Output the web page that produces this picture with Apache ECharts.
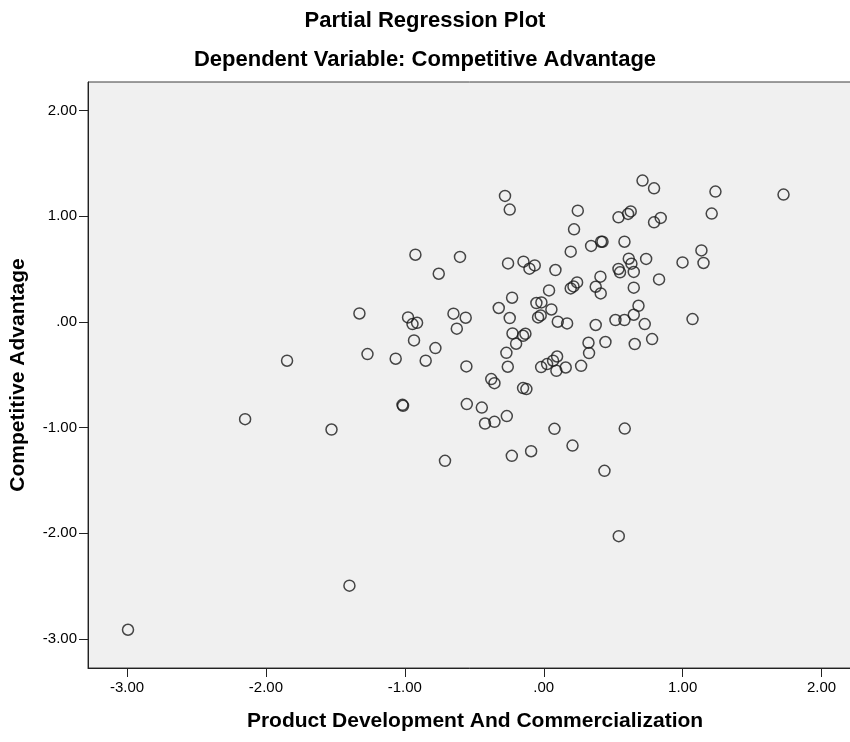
<!DOCTYPE html>
<html>
<head>
<meta charset="utf-8">
<title>Partial Regression Plot</title>
<script src="https://cdn.jsdelivr.net/npm/echarts@6/dist/echarts.min.js"></script>
<style>
  html, body { margin: 0; padding: 0; background: #fff; }
  #chart { width: 850px; height: 742px; }
</style>
</head>
<body>
<div id="chart"></div>
<script>
// x = Product Development And Commercialization (partial residual)
const pdcValues = [
  -0.924, -0.603, -0.756, -1.327, -0.977, -0.945, -0.912, -0.650, -0.562, -0.626,
  -0.934, -0.780, -1.269, -1.066, -0.850, -1.848, -0.557,
  0.711, 0.794, 1.236, 1.726, -0.279, -0.245, 0.245, 0.218, 0.538, 0.607, 0.626,
  0.794, 0.842, 1.209, 0.341, 0.413, 0.423, 0.581, 0.194, 1.135, 1.150, 0.999,
  0.737, 0.612, 0.631, 0.648, 0.538, 0.549, -0.257, -0.146, -0.103, -0.065, 0.084,
  0.408, 0.830, 0.648, 0.374, 0.410, 0.194, 0.214, 0.240, 0.038, -0.228, -0.324,
  -0.053, -0.017, 0.055, -0.041, -0.022, -0.245, 0.101, 0.168, 0.374, 0.516, 0.581,
  0.682, 0.648, 0.727, 1.071, -0.225, -0.149, -0.132, -0.199, -0.269, 0.322, 0.326,
  0.444, 0.655, 0.780, -0.259, -0.019, 0.024, 0.067, 0.096, 0.091, 0.158, 0.269,
  -0.378, -0.355, -0.149, -0.125, -0.554, -0.446, -0.423, -0.355, -0.266, 0.077,
  0.583, 0.207, -0.091, -0.230, 0.437, 0.540,
  -1.017, -1.013, -2.150, -1.528, -0.711, -1.399, -2.993
];
// y = Competitive Advantage (partial residual)
const caValues = [
  0.636, 0.615, 0.456, 0.080, 0.043, -0.020, -0.008, 0.078, 0.040, -0.064,
  -0.175, -0.247, -0.304, -0.348, -0.367, -0.367, -0.421,
  1.337, 1.264, 1.233, 1.205, 1.192, 1.063, 1.053, 0.876, 0.990, 1.022, 1.046,
  0.942, 0.984, 1.025, 0.719, 0.759, 0.759, 0.759, 0.665, 0.677, 0.558, 0.563,
  0.596, 0.598, 0.551, 0.473, 0.501, 0.469, 0.554, 0.570, 0.504, 0.535, 0.491,
  0.428, 0.402, 0.324, 0.333, 0.270, 0.317, 0.336, 0.374, 0.298, 0.229, 0.132,
  0.179, 0.185, 0.118, 0.043, 0.062, 0.037, 0.002, -0.014, -0.029, 0.018, 0.018,
  0.153, 0.068, -0.020, 0.027, -0.109, -0.131, -0.112, -0.206, -0.292, -0.197, -0.295,
  -0.190, -0.209, -0.162, -0.424, -0.427, -0.399, -0.367, -0.327, -0.462, -0.431, -0.415,
  -0.541, -0.579, -0.626, -0.635, -0.777, -0.810, -0.961, -0.945, -0.891, -1.011,
  -1.009, -1.170, -1.223, -1.267, -1.409, -2.027,
  -0.784, -0.794, -0.920, -1.018, -1.314, -2.495, -2.912
];
const tickValues = [-3, -2, -1, 0, 1, 2];

const points = pdcValues.map((x, i) => [x, caValues[i]]);

// SPSS style: zero is ".00"
function fmtTick(v) {
  if (v === 0) return '.00';
  return v.toFixed(2);
}

const chart = echarts.init(document.getElementById('chart'), null, { renderer: 'canvas' });
const fontFamily = '"Liberation Sans", Arial, sans-serif';

chart.setOption({
  backgroundColor: '#ffffff',
  animation: false,
  title: [
    {
      text: 'Partial Regression Plot',
      left: 'center',
      top: 5,
      textStyle: { fontFamily, fontSize: 22, fontWeight: 'bold', color: '#000' }
    },
    {
      text: 'Dependent Variable: Competitive Advantage',
      left: 'center',
      top: 44,
      textStyle: { fontFamily, fontSize: 22, fontWeight: 'bold', color: '#000' }
    }
  ],
  grid: {
    left: 88,
    top: 82,
    right: -12,
    bottom: 74,
    outerBoundsMode: 'none',
    show: true,
    backgroundColor: '#f0f0f0',
    borderColor: '#3c3c3c',
    borderWidth: 1
  },
  xAxis: {
    type: 'value',
    min: -3.281,
    max: 2.291,
    name: 'Product Development And Commercialization',
    nameLocation: 'middle',
    nameGap: 43,
    nameTextStyle: { fontFamily, fontSize: 21, fontWeight: 'bold', color: '#000' },
    axisLine: { show: true, onZero: false, lineStyle: { color: '#222', width: 1 } },
    axisTick: { show: true, inside: false, length: 9, customValues: tickValues, lineStyle: { color: '#222' } },
    axisLabel: { customValues: tickValues, formatter: fmtTick, margin: 12, fontFamily, fontSize: 15, color: '#000' },
    splitLine: { show: false }
  },
  yAxis: {
    type: 'value',
    min: -3.274,
    max: 2.270,
    name: 'Competitive Advantage',
    nameLocation: 'middle',
    nameGap: 59,
    nameTextStyle: { fontFamily, fontSize: 21, fontWeight: 'bold', color: '#000' },
    axisLine: { show: true, onZero: false, lineStyle: { color: '#222', width: 1 } },
    axisTick: { show: true, inside: false, length: 9, customValues: tickValues, lineStyle: { color: '#222' } },
    axisLabel: { customValues: tickValues, formatter: fmtTick, margin: 11, fontFamily, fontSize: 15, color: '#000' },
    splitLine: { show: false }
  },
  series: [{
    type: 'scatter',
    data: points,
    symbol: 'circle',
    symbolSize: 11,
    itemStyle: { color: 'rgba(0,0,0,0)', borderColor: '#1a1a1a', borderWidth: 1.5 },
    emphasis: { disabled: true }
  }]
});
</script>
</body>
</html>
